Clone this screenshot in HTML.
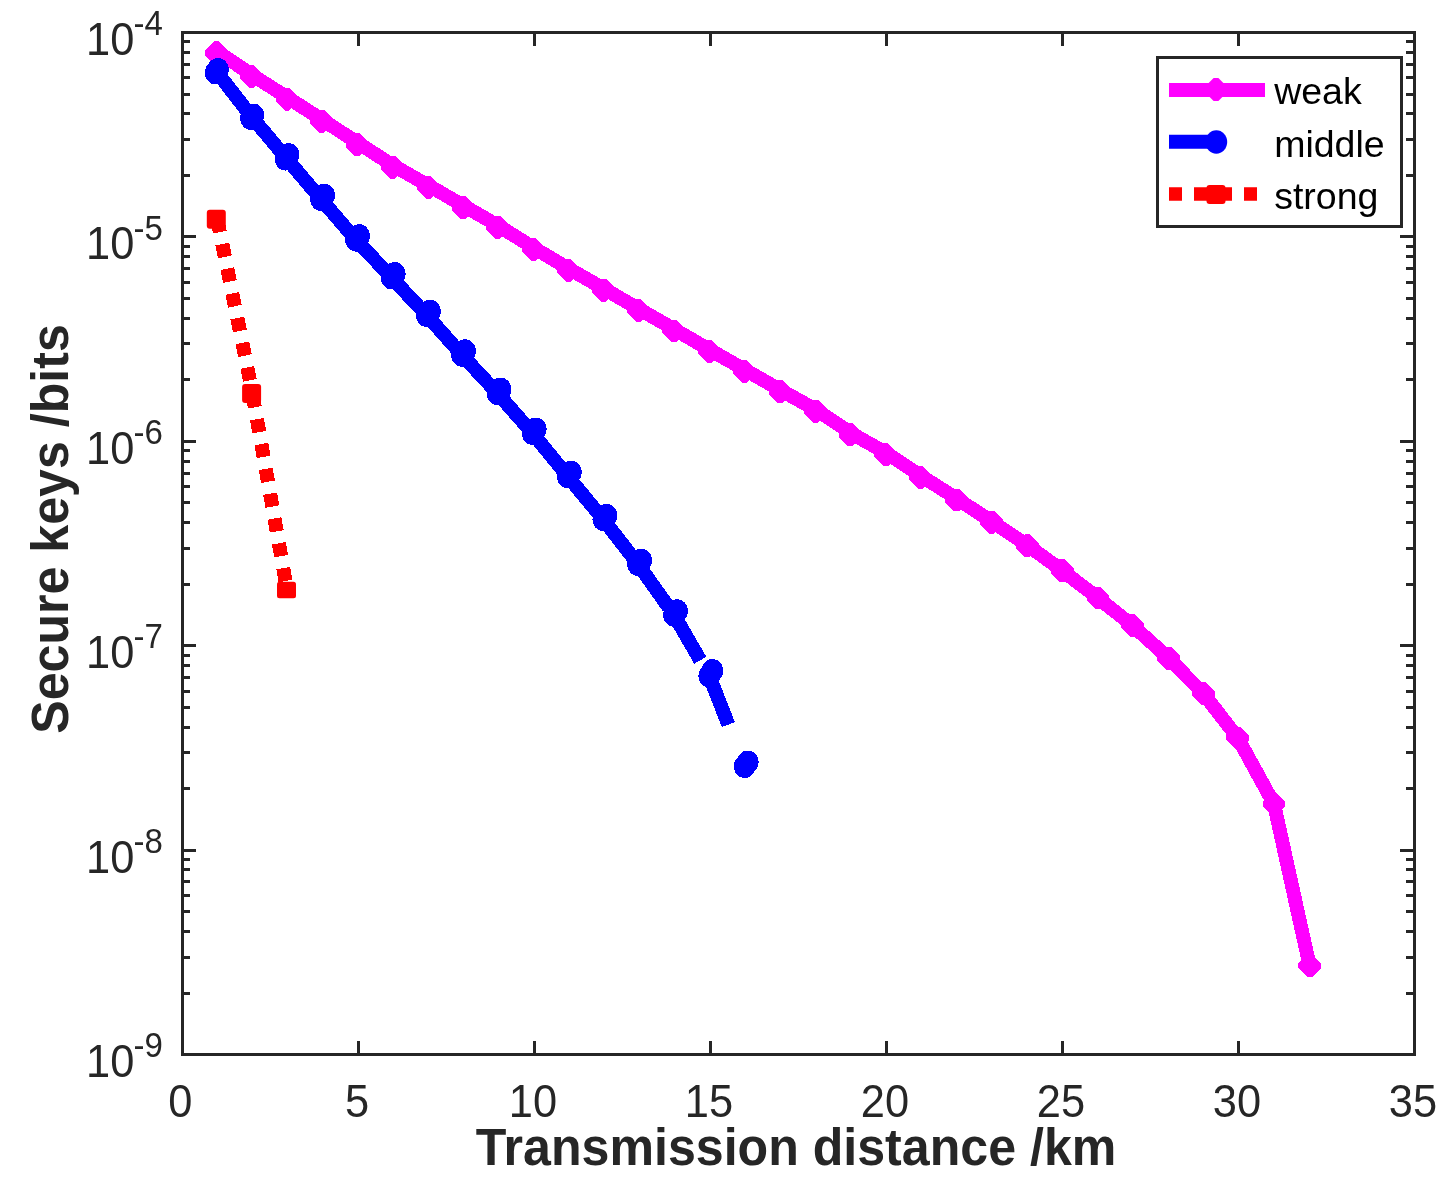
<!DOCTYPE html>
<html><head><meta charset="utf-8"><title>Secure keys vs transmission distance</title>
<style>
html,body{margin:0;padding:0;background:#fff;}
body{width:1449px;height:1193px;overflow:hidden;}
svg{display:block;}
text{font-family:"Liberation Sans",sans-serif;}
.tk{font-size:43.4px;fill:#262626;}
.sup{font-size:33px;fill:#262626;}
.lab{font-size:50.12px;font-weight:bold;fill:#262626;}
.leg{font-size:37.5px;fill:#000;}
</style></head><body>
<svg width="1449" height="1193" viewBox="0 0 1449 1193">
<rect x="0" y="0" width="1449" height="1193" fill="#ffffff"/>

<g stroke="#262626" stroke-width="3" fill="none" shape-rendering="crispEdges">
<line x1="358.5" y1="1054.5" x2="358.5" y2="1041.0"/>
<line x1="358.5" y1="32.5" x2="358.5" y2="46.0"/>
<line x1="534.5" y1="1054.5" x2="534.5" y2="1041.0"/>
<line x1="534.5" y1="32.5" x2="534.5" y2="46.0"/>
<line x1="710.5" y1="1054.5" x2="710.5" y2="1041.0"/>
<line x1="710.5" y1="32.5" x2="710.5" y2="46.0"/>
<line x1="886.5" y1="1054.5" x2="886.5" y2="1041.0"/>
<line x1="886.5" y1="32.5" x2="886.5" y2="46.0"/>
<line x1="1062.5" y1="1054.5" x2="1062.5" y2="1041.0"/>
<line x1="1062.5" y1="32.5" x2="1062.5" y2="46.0"/>
<line x1="1238.5" y1="1054.5" x2="1238.5" y2="1041.0"/>
<line x1="1238.5" y1="32.5" x2="1238.5" y2="46.0"/>
<line x1="182.5" y1="175.4" x2="190.0" y2="175.4"/>
<line x1="1414.5" y1="175.4" x2="1406.0" y2="175.4"/>
<line x1="182.5" y1="139.4" x2="190.0" y2="139.4"/>
<line x1="1414.5" y1="139.4" x2="1406.0" y2="139.4"/>
<line x1="182.5" y1="113.8" x2="190.0" y2="113.8"/>
<line x1="1414.5" y1="113.8" x2="1406.0" y2="113.8"/>
<line x1="182.5" y1="94.0" x2="190.0" y2="94.0"/>
<line x1="1414.5" y1="94.0" x2="1406.0" y2="94.0"/>
<line x1="182.5" y1="77.8" x2="190.0" y2="77.8"/>
<line x1="1414.5" y1="77.8" x2="1406.0" y2="77.8"/>
<line x1="182.5" y1="64.2" x2="190.0" y2="64.2"/>
<line x1="1414.5" y1="64.2" x2="1406.0" y2="64.2"/>
<line x1="182.5" y1="52.3" x2="190.0" y2="52.3"/>
<line x1="1414.5" y1="52.3" x2="1406.0" y2="52.3"/>
<line x1="182.5" y1="41.9" x2="190.0" y2="41.9"/>
<line x1="1414.5" y1="41.9" x2="1406.0" y2="41.9"/>
<line x1="182.5" y1="236.9" x2="196.0" y2="236.9"/>
<line x1="1414.5" y1="236.9" x2="1400.0" y2="236.9"/>
<line x1="182.5" y1="379.8" x2="190.0" y2="379.8"/>
<line x1="1414.5" y1="379.8" x2="1406.0" y2="379.8"/>
<line x1="182.5" y1="343.8" x2="190.0" y2="343.8"/>
<line x1="1414.5" y1="343.8" x2="1406.0" y2="343.8"/>
<line x1="182.5" y1="318.2" x2="190.0" y2="318.2"/>
<line x1="1414.5" y1="318.2" x2="1406.0" y2="318.2"/>
<line x1="182.5" y1="298.4" x2="190.0" y2="298.4"/>
<line x1="1414.5" y1="298.4" x2="1406.0" y2="298.4"/>
<line x1="182.5" y1="282.2" x2="190.0" y2="282.2"/>
<line x1="1414.5" y1="282.2" x2="1406.0" y2="282.2"/>
<line x1="182.5" y1="268.6" x2="190.0" y2="268.6"/>
<line x1="1414.5" y1="268.6" x2="1406.0" y2="268.6"/>
<line x1="182.5" y1="256.7" x2="190.0" y2="256.7"/>
<line x1="1414.5" y1="256.7" x2="1406.0" y2="256.7"/>
<line x1="182.5" y1="246.3" x2="190.0" y2="246.3"/>
<line x1="1414.5" y1="246.3" x2="1406.0" y2="246.3"/>
<line x1="182.5" y1="441.3" x2="196.0" y2="441.3"/>
<line x1="1414.5" y1="441.3" x2="1400.0" y2="441.3"/>
<line x1="182.5" y1="584.2" x2="190.0" y2="584.2"/>
<line x1="1414.5" y1="584.2" x2="1406.0" y2="584.2"/>
<line x1="182.5" y1="548.2" x2="190.0" y2="548.2"/>
<line x1="1414.5" y1="548.2" x2="1406.0" y2="548.2"/>
<line x1="182.5" y1="522.6" x2="190.0" y2="522.6"/>
<line x1="1414.5" y1="522.6" x2="1406.0" y2="522.6"/>
<line x1="182.5" y1="502.8" x2="190.0" y2="502.8"/>
<line x1="1414.5" y1="502.8" x2="1406.0" y2="502.8"/>
<line x1="182.5" y1="486.6" x2="190.0" y2="486.6"/>
<line x1="1414.5" y1="486.6" x2="1406.0" y2="486.6"/>
<line x1="182.5" y1="473.0" x2="190.0" y2="473.0"/>
<line x1="1414.5" y1="473.0" x2="1406.0" y2="473.0"/>
<line x1="182.5" y1="461.1" x2="190.0" y2="461.1"/>
<line x1="1414.5" y1="461.1" x2="1406.0" y2="461.1"/>
<line x1="182.5" y1="450.7" x2="190.0" y2="450.7"/>
<line x1="1414.5" y1="450.7" x2="1406.0" y2="450.7"/>
<line x1="182.5" y1="645.7" x2="196.0" y2="645.7"/>
<line x1="1414.5" y1="645.7" x2="1400.0" y2="645.7"/>
<line x1="182.5" y1="788.6" x2="190.0" y2="788.6"/>
<line x1="1414.5" y1="788.6" x2="1406.0" y2="788.6"/>
<line x1="182.5" y1="752.6" x2="190.0" y2="752.6"/>
<line x1="1414.5" y1="752.6" x2="1406.0" y2="752.6"/>
<line x1="182.5" y1="727.0" x2="190.0" y2="727.0"/>
<line x1="1414.5" y1="727.0" x2="1406.0" y2="727.0"/>
<line x1="182.5" y1="707.2" x2="190.0" y2="707.2"/>
<line x1="1414.5" y1="707.2" x2="1406.0" y2="707.2"/>
<line x1="182.5" y1="691.0" x2="190.0" y2="691.0"/>
<line x1="1414.5" y1="691.0" x2="1406.0" y2="691.0"/>
<line x1="182.5" y1="677.4" x2="190.0" y2="677.4"/>
<line x1="1414.5" y1="677.4" x2="1406.0" y2="677.4"/>
<line x1="182.5" y1="665.5" x2="190.0" y2="665.5"/>
<line x1="1414.5" y1="665.5" x2="1406.0" y2="665.5"/>
<line x1="182.5" y1="655.1" x2="190.0" y2="655.1"/>
<line x1="1414.5" y1="655.1" x2="1406.0" y2="655.1"/>
<line x1="182.5" y1="850.1" x2="196.0" y2="850.1"/>
<line x1="1414.5" y1="850.1" x2="1400.0" y2="850.1"/>
<line x1="182.5" y1="993.0" x2="190.0" y2="993.0"/>
<line x1="1414.5" y1="993.0" x2="1406.0" y2="993.0"/>
<line x1="182.5" y1="957.0" x2="190.0" y2="957.0"/>
<line x1="1414.5" y1="957.0" x2="1406.0" y2="957.0"/>
<line x1="182.5" y1="931.4" x2="190.0" y2="931.4"/>
<line x1="1414.5" y1="931.4" x2="1406.0" y2="931.4"/>
<line x1="182.5" y1="911.6" x2="190.0" y2="911.6"/>
<line x1="1414.5" y1="911.6" x2="1406.0" y2="911.6"/>
<line x1="182.5" y1="895.4" x2="190.0" y2="895.4"/>
<line x1="1414.5" y1="895.4" x2="1406.0" y2="895.4"/>
<line x1="182.5" y1="881.8" x2="190.0" y2="881.8"/>
<line x1="1414.5" y1="881.8" x2="1406.0" y2="881.8"/>
<line x1="182.5" y1="869.9" x2="190.0" y2="869.9"/>
<line x1="1414.5" y1="869.9" x2="1406.0" y2="869.9"/>
<line x1="182.5" y1="859.5" x2="190.0" y2="859.5"/>
<line x1="1414.5" y1="859.5" x2="1406.0" y2="859.5"/>
</g>
<g id="weak" shape-rendering="crispEdges"><polyline points="217.6,51.6 252.4,75.2 288.2,98.0 322.9,120.2 358.3,143.2 393.9,166.0 429.6,186.1 464.2,206.1 498.8,226.1 534.5,248.3 569.3,269.0 604.9,289.3 639.7,309.4 675.0,329.7 710.4,350.2 745.7,370.2 781.1,390.4 816.8,410.2 851.4,433.3 886.9,453.4 921.5,476.2 957.6,499.1 992.2,521.8 1027.6,545.3 1062.1,570.5 1097.9,597.9 1132.8,625.7 1168.6,658.2 1203.4,693.6 1237.8,737.9 1274.0,804.0 1309.6,965.7" fill="none" stroke="#ff00ff" stroke-width="14.0" stroke-linejoin="round"/>
<path d="M214.0 41.4L218.8 41.4L227.8 50.4L227.8 55.2L218.8 64.2L214.0 64.2L205.0 55.2L205.0 50.4Z" fill="#ff00ff"/>
<path d="M248.8 65.0L253.6 65.0L262.6 74.0L262.6 78.8L253.6 87.8L248.8 87.8L239.8 78.8L239.8 74.0Z" fill="#ff00ff"/>
<path d="M284.6 87.8L289.4 87.8L298.4 96.8L298.4 101.6L289.4 110.6L284.6 110.6L275.6 101.6L275.6 96.8Z" fill="#ff00ff"/>
<path d="M319.3 110.0L324.1 110.0L333.1 119.0L333.1 123.8L324.1 132.8L319.3 132.8L310.3 123.8L310.3 119.0Z" fill="#ff00ff"/>
<path d="M354.7 133.0L359.5 133.0L368.5 142.0L368.5 146.8L359.5 155.8L354.7 155.8L345.7 146.8L345.7 142.0Z" fill="#ff00ff"/>
<path d="M390.3 155.8L395.1 155.8L404.1 164.8L404.1 169.6L395.1 178.6L390.3 178.6L381.3 169.6L381.3 164.8Z" fill="#ff00ff"/>
<path d="M426.0 175.9L430.8 175.9L439.8 184.9L439.8 189.7L430.8 198.7L426.0 198.7L417.0 189.7L417.0 184.9Z" fill="#ff00ff"/>
<path d="M460.6 195.9L465.4 195.9L474.4 204.9L474.4 209.7L465.4 218.7L460.6 218.7L451.6 209.7L451.6 204.9Z" fill="#ff00ff"/>
<path d="M495.2 215.9L500.0 215.9L509.0 224.9L509.0 229.7L500.0 238.7L495.2 238.7L486.2 229.7L486.2 224.9Z" fill="#ff00ff"/>
<path d="M530.9 238.1L535.7 238.1L544.7 247.1L544.7 251.9L535.7 260.9L530.9 260.9L521.9 251.9L521.9 247.1Z" fill="#ff00ff"/>
<path d="M565.7 258.8L570.5 258.8L579.5 267.8L579.5 272.6L570.5 281.6L565.7 281.6L556.7 272.6L556.7 267.8Z" fill="#ff00ff"/>
<path d="M601.3 279.1L606.1 279.1L615.1 288.1L615.1 292.9L606.1 301.9L601.3 301.9L592.3 292.9L592.3 288.1Z" fill="#ff00ff"/>
<path d="M636.1 299.2L640.9 299.2L649.9 308.2L649.9 313.0L640.9 322.0L636.1 322.0L627.1 313.0L627.1 308.2Z" fill="#ff00ff"/>
<path d="M671.4 319.5L676.2 319.5L685.2 328.5L685.2 333.3L676.2 342.3L671.4 342.3L662.4 333.3L662.4 328.5Z" fill="#ff00ff"/>
<path d="M706.8 340.0L711.6 340.0L720.6 349.0L720.6 353.8L711.6 362.8L706.8 362.8L697.8 353.8L697.8 349.0Z" fill="#ff00ff"/>
<path d="M742.1 360.0L746.9 360.0L755.9 369.0L755.9 373.8L746.9 382.8L742.1 382.8L733.1 373.8L733.1 369.0Z" fill="#ff00ff"/>
<path d="M777.5 380.2L782.3 380.2L791.3 389.2L791.3 394.0L782.3 403.0L777.5 403.0L768.5 394.0L768.5 389.2Z" fill="#ff00ff"/>
<path d="M813.2 400.0L818.0 400.0L827.0 409.0L827.0 413.8L818.0 422.8L813.2 422.8L804.2 413.8L804.2 409.0Z" fill="#ff00ff"/>
<path d="M847.8 423.1L852.6 423.1L861.6 432.1L861.6 436.9L852.6 445.9L847.8 445.9L838.8 436.9L838.8 432.1Z" fill="#ff00ff"/>
<path d="M883.3 443.2L888.1 443.2L897.1 452.2L897.1 457.0L888.1 466.0L883.3 466.0L874.3 457.0L874.3 452.2Z" fill="#ff00ff"/>
<path d="M917.9 466.0L922.7 466.0L931.7 475.0L931.7 479.8L922.7 488.8L917.9 488.8L908.9 479.8L908.9 475.0Z" fill="#ff00ff"/>
<path d="M954.3 488.6L959.1 488.6L968.1 497.6L968.1 502.4L959.1 511.4L954.3 511.4L945.3 502.4L945.3 497.6Z" fill="#ff00ff"/>
<path d="M989.2 511.0L994.0 511.0L1003.0 520.0L1003.0 524.8L994.0 533.8L989.2 533.8L980.2 524.8L980.2 520.0Z" fill="#ff00ff"/>
<path d="M1024.9 534.2L1029.7 534.2L1038.7 543.2L1038.7 548.0L1029.7 557.0L1024.9 557.0L1015.9 548.0L1015.9 543.2Z" fill="#ff00ff"/>
<path d="M1059.7 559.1L1064.5 559.1L1073.5 568.1L1073.5 572.9L1064.5 581.9L1059.7 581.9L1050.7 572.9L1050.7 568.1Z" fill="#ff00ff"/>
<path d="M1095.5 586.5L1100.3 586.5L1109.3 595.5L1109.3 600.3L1100.3 609.3L1095.5 609.3L1086.5 600.3L1086.5 595.5Z" fill="#ff00ff"/>
<path d="M1130.4 614.3L1135.2 614.3L1144.2 623.3L1144.2 628.1L1135.2 637.1L1130.4 637.1L1121.4 628.1L1121.4 623.3Z" fill="#ff00ff"/>
<path d="M1166.2 646.8L1171.0 646.8L1180.0 655.8L1180.0 660.6L1171.0 669.6L1166.2 669.6L1157.2 660.6L1157.2 655.8Z" fill="#ff00ff"/>
<path d="M1201.0 682.2L1205.8 682.2L1214.8 691.2L1214.8 696.0L1205.8 705.0L1201.0 705.0L1192.0 696.0L1192.0 691.2Z" fill="#ff00ff"/>
<path d="M1235.4 726.5L1240.2 726.5L1249.2 735.5L1249.2 740.3L1240.2 749.3L1235.4 749.3L1226.4 740.3L1226.4 735.5Z" fill="#ff00ff"/>
<path d="M1271.6 792.6L1276.4 792.6L1285.4 801.6L1285.4 806.4L1276.4 815.4L1271.6 815.4L1262.6 806.4L1262.6 801.6Z" fill="#ff00ff"/>
<path d="M1307.2 954.3L1312.0 954.3L1321.0 963.3L1321.0 968.1L1312.0 977.1L1307.2 977.1L1298.2 968.1L1298.2 963.3Z" fill="#ff00ff"/>
</g>
<g id="middle" shape-rendering="crispEdges" stroke="#0000ff" stroke-width="14.0" fill="none">
<line x1="217.3" y1="72.5" x2="252.6" y2="118.0" stroke-dasharray="52.3 80"/>
<line x1="252.6" y1="118.0" x2="286.5" y2="158.4" stroke-dasharray="52.3 80"/>
<line x1="286.5" y1="158.4" x2="321.2" y2="199.4" stroke-dasharray="52.3 80"/>
<line x1="321.2" y1="199.4" x2="356.1" y2="239.9" stroke-dasharray="52.3 80"/>
<line x1="356.1" y1="239.9" x2="391.7" y2="277.7" stroke-dasharray="52.3 80"/>
<line x1="391.7" y1="277.7" x2="426.9" y2="315.4" stroke-dasharray="52.3 80"/>
<line x1="426.9" y1="315.4" x2="462.0" y2="355.0" stroke-dasharray="52.3 80"/>
<line x1="462.0" y1="355.0" x2="497.5" y2="393.3" stroke-dasharray="52.3 80"/>
<line x1="497.5" y1="393.3" x2="532.7" y2="433.3" stroke-dasharray="52.3 80"/>
<line x1="532.7" y1="433.3" x2="567.8" y2="476.4" stroke-dasharray="52.3 80"/>
<line x1="567.8" y1="476.4" x2="603.4" y2="519.5" stroke-dasharray="52.3 80"/>
<line x1="603.4" y1="519.5" x2="638.2" y2="564.4" stroke-dasharray="52.3 80"/>
<line x1="638.2" y1="564.4" x2="674.1" y2="615.0" stroke-dasharray="52.3 80"/>
<line x1="674.1" y1="615.0" x2="709.3" y2="675.9" stroke-dasharray="52.3 80"/>
<line x1="709.3" y1="675.9" x2="744.7" y2="766.3" stroke-dasharray="52.3 80"/>
</g>
<g id="middle-markers" shape-rendering="crispEdges">
<ellipse cx="215.7" cy="72.7" rx="10.9" ry="11.7" fill="#0000ff" stroke="none"/>
<ellipse cx="217.9" cy="69.7" rx="10.9" ry="11.7" fill="#0000ff" stroke="none"/>
<ellipse cx="251.0" cy="118.2" rx="10.9" ry="11.7" fill="#0000ff" stroke="none"/>
<ellipse cx="253.2" cy="115.2" rx="10.9" ry="11.7" fill="#0000ff" stroke="none"/>
<ellipse cx="285.5" cy="158.8" rx="10.9" ry="11.7" fill="#0000ff" stroke="none"/>
<ellipse cx="288.5" cy="154.8" rx="10.9" ry="11.7" fill="#0000ff" stroke="none"/>
<ellipse cx="321.2" cy="199.4" rx="10.9" ry="11.7" fill="#0000ff" stroke="none"/>
<ellipse cx="324.2" cy="195.4" rx="10.9" ry="11.7" fill="#0000ff" stroke="none"/>
<ellipse cx="356.1" cy="239.9" rx="10.9" ry="11.7" fill="#0000ff" stroke="none"/>
<ellipse cx="359.1" cy="235.9" rx="10.9" ry="11.7" fill="#0000ff" stroke="none"/>
<ellipse cx="391.7" cy="277.7" rx="10.9" ry="11.7" fill="#0000ff" stroke="none"/>
<ellipse cx="394.7" cy="273.7" rx="10.9" ry="11.7" fill="#0000ff" stroke="none"/>
<ellipse cx="426.9" cy="315.4" rx="10.9" ry="11.7" fill="#0000ff" stroke="none"/>
<ellipse cx="429.9" cy="311.4" rx="10.9" ry="11.7" fill="#0000ff" stroke="none"/>
<ellipse cx="462.0" cy="355.0" rx="10.9" ry="11.7" fill="#0000ff" stroke="none"/>
<ellipse cx="465.0" cy="351.0" rx="10.9" ry="11.7" fill="#0000ff" stroke="none"/>
<ellipse cx="497.5" cy="393.3" rx="10.9" ry="11.7" fill="#0000ff" stroke="none"/>
<ellipse cx="500.5" cy="389.3" rx="10.9" ry="11.7" fill="#0000ff" stroke="none"/>
<ellipse cx="532.7" cy="433.3" rx="10.9" ry="11.7" fill="#0000ff" stroke="none"/>
<ellipse cx="535.7" cy="429.3" rx="10.9" ry="11.7" fill="#0000ff" stroke="none"/>
<ellipse cx="567.8" cy="476.4" rx="10.9" ry="11.7" fill="#0000ff" stroke="none"/>
<ellipse cx="570.8" cy="472.4" rx="10.9" ry="11.7" fill="#0000ff" stroke="none"/>
<ellipse cx="603.4" cy="519.5" rx="10.9" ry="11.7" fill="#0000ff" stroke="none"/>
<ellipse cx="606.4" cy="515.5" rx="10.9" ry="11.7" fill="#0000ff" stroke="none"/>
<ellipse cx="638.2" cy="564.4" rx="10.9" ry="11.7" fill="#0000ff" stroke="none"/>
<ellipse cx="641.2" cy="560.4" rx="10.9" ry="11.7" fill="#0000ff" stroke="none"/>
<ellipse cx="674.1" cy="615.0" rx="10.9" ry="11.7" fill="#0000ff" stroke="none"/>
<ellipse cx="677.1" cy="611.0" rx="10.9" ry="11.7" fill="#0000ff" stroke="none"/>
<ellipse cx="709.3" cy="675.9" rx="10.9" ry="11.7" fill="#0000ff" stroke="none"/>
<ellipse cx="712.3" cy="670.7" rx="10.9" ry="11.7" fill="#0000ff" stroke="none"/>
<ellipse cx="744.7" cy="766.3" rx="10.9" ry="11.7" fill="#0000ff" stroke="none"/>
<ellipse cx="747.7" cy="762.3" rx="10.9" ry="11.7" fill="#0000ff" stroke="none"/>
</g>
<g id="strong" shape-rendering="crispEdges" stroke="#ff0000" stroke-width="14.0" fill="none" stroke-dasharray="13.1 12.1">
<line x1="217.3" y1="219.3" x2="252.6" y2="393.5"/>
<line x1="252.6" y1="394.4" x2="287.0" y2="589.5"/>
</g>
<rect x="206.8" y="209.8" width="19" height="19" rx="3" fill="#ff0000"/>
<rect x="242.1" y="384.0" width="19" height="19" rx="3" fill="#ff0000"/>
<rect x="277" y="581.8" width="19" height="16.4" rx="2.5" fill="#ff0000"/>
<rect x="182.5" y="32.5" width="1232.0" height="1022.0" fill="none" stroke="#262626" stroke-width="3" shape-rendering="crispEdges"/>
<g id="legend"><rect x="1157" y="57.5" width="244.5" height="168.5" fill="#fff" stroke="#262626" stroke-width="3" shape-rendering="crispEdges"/>
<line x1="1169" y1="90" x2="1265" y2="90" stroke="#ff00ff" stroke-width="14"/>
<path d="M1213.6 78.1L1218.4 78.1L1227.4 87.1L1227.4 91.9L1218.4 100.9L1213.6 100.9L1204.6 91.9L1204.6 87.1Z" fill="#ff00ff"/>
<line x1="1169" y1="141.8" x2="1222" y2="141.8" stroke="#0000ff" stroke-width="14"/>
<ellipse cx="1216.3" cy="142.0" rx="10.9" ry="11.7" fill="#0000ff" stroke="none"/>
<line x1="1169" y1="194" x2="1265" y2="194" stroke="#ff0000" stroke-width="13.6" stroke-dasharray="13 12"/>
<rect x="1206.5" y="185.0" width="19" height="19" rx="3" fill="#ff0000"/>
<text class="leg" x="1274.2" y="104">weak</text>
<text class="leg" x="1274.2" y="157">middle</text>
<text class="leg" x="1274.2" y="208.9">strong</text>
</g>
<text class="tk" transform="translate(180.4,1117) scale(1,1.07)" text-anchor="middle">0</text>
<text class="tk" transform="translate(357.0,1117) scale(1,1.07)" text-anchor="middle">5</text>
<text class="tk" transform="translate(533.0,1117) scale(1,1.07)" text-anchor="middle">10</text>
<text class="tk" transform="translate(709.0,1117) scale(1,1.07)" text-anchor="middle">15</text>
<text class="tk" transform="translate(885.0,1117) scale(1,1.07)" text-anchor="middle">20</text>
<text class="tk" transform="translate(1061.0,1117) scale(1,1.07)" text-anchor="middle">25</text>
<text class="tk" transform="translate(1237.0,1117) scale(1,1.07)" text-anchor="middle">30</text>
<text class="tk" transform="translate(1413.0,1117) scale(1,1.07)" text-anchor="middle">35</text>
<text class="tk" transform="translate(86,55.0) scale(1,1.07)">10</text><text class="sup" transform="translate(133.6,35.1) scale(1,1.04)">-4</text>
<text class="tk" transform="translate(86,259.4) scale(1,1.07)">10</text><text class="sup" transform="translate(133.6,239.5) scale(1,1.04)">-5</text>
<text class="tk" transform="translate(86,463.8) scale(1,1.07)">10</text><text class="sup" transform="translate(133.6,443.9) scale(1,1.04)">-6</text>
<text class="tk" transform="translate(86,668.2) scale(1,1.07)">10</text><text class="sup" transform="translate(133.6,648.3) scale(1,1.04)">-7</text>
<text class="tk" transform="translate(86,872.6) scale(1,1.07)">10</text><text class="sup" transform="translate(133.6,852.7) scale(1,1.04)">-8</text>
<text class="tk" transform="translate(86,1077.0) scale(1,1.07)">10</text><text class="sup" transform="translate(133.6,1057.1) scale(1,1.04)">-9</text>
<text class="lab" transform="translate(796.0,1165) scale(1,1.035)" text-anchor="middle">Transmission distance /km</text>
<text class="lab" transform="translate(68.3,529) rotate(-90) scale(1,1.035)" text-anchor="middle">Secure keys /bits</text>
</svg></body></html>
